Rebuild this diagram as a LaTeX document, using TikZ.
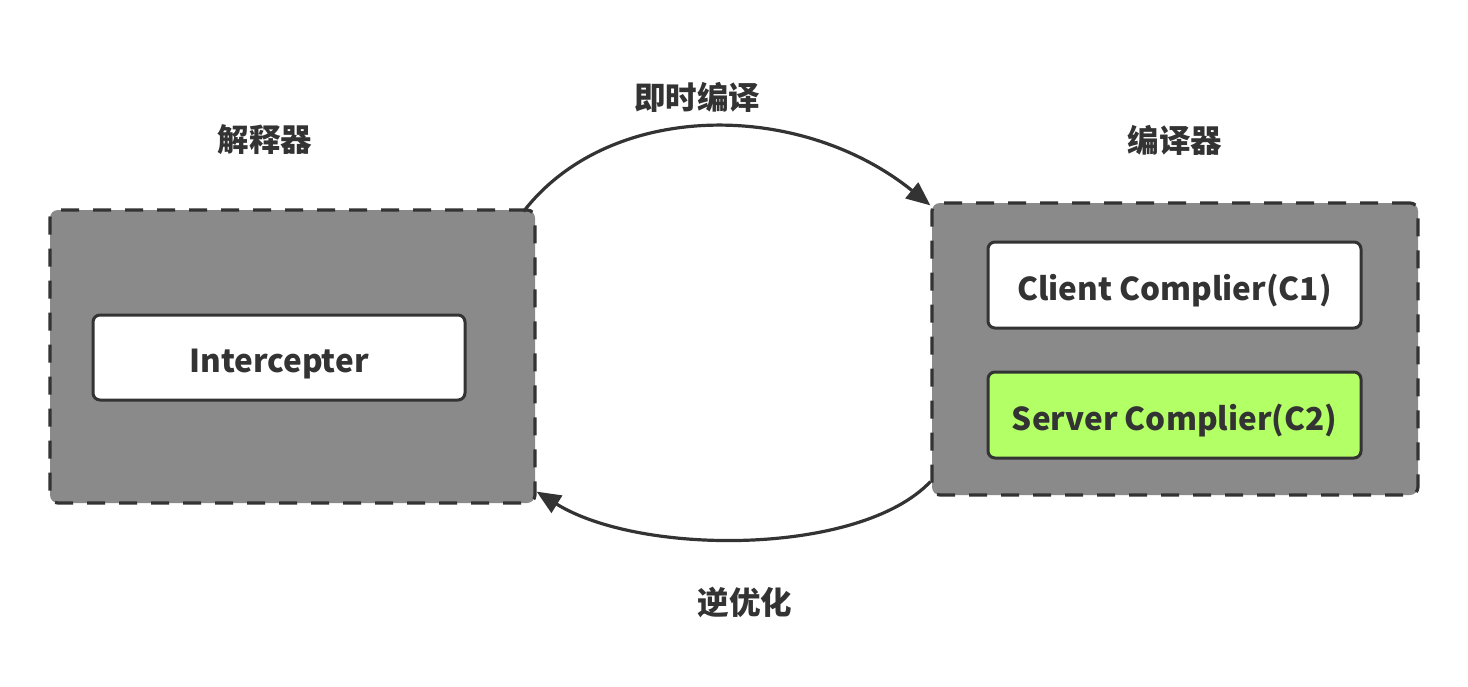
\documentclass[tikz,border=0pt]{standalone}
\usepackage{fontspec}
\setmainfont{Noto Sans CJK SC}
\usepackage{xcolor}
\definecolor{jvdark}{RGB}{51,51,51}
\definecolor{jvgrey}{RGB}{138,138,138}
\definecolor{jvgreen}{RGB}{179,255,102}
\usetikzlibrary{arrows.meta}
\tikzset{
  area/.style={draw=jvdark, fill=jvgrey, line width=3.2pt, dash pattern=on 18pt off 14pt, rounded corners=8pt},
  comp/.style={draw=jvdark, fill=white, line width=3pt, rounded corners=7pt, font=\fontsize{31.5}{36}\selectfont\bfseries, text=jvdark, text height=30pt, text depth=0pt},
  title/.style={font=\fontsize{31.5}{36}\selectfont\bfseries, text=jvdark},
  arr/.style={draw=jvdark, line width=3.2pt, -{Triangle[length=24pt,width=20pt]}}
}

\begin{document}
\begin{tikzpicture}[x=1pt, y=-1pt]
  \useasboundingbox (0,0) rectangle (1468,686);
  % the two areas
  \node[area, minimum width=485pt, minimum height=293pt] (interp) at (292.5,356.5) {};
  \node[area, minimum width=486pt, minimum height=292pt] (compiler) at (1175,349) {};
  \node[comp, minimum width=372pt, minimum height=85pt] (icpt) at (279,357.5) {Intercepter};
  \node[comp, minimum width=373pt, minimum height=86pt] (c1) at (1174.5,285) {Client Complier(C1)};
  \node[comp, fill=jvgreen, minimum width=373pt, minimum height=86pt] (c2) at (1174.5,415) {Server Complier(C2)};
  % titles
  \node[title] (tinterp) at (265,140) {解释器};
  \node[title] (tcompiler) at (1175,140) {编译器};
  \node[title] (tjit) at (697,97) {即时编译};
  \node[title] (tdeopt) at (745,602) {逆优化};
  % arcs
  \draw[arr] ([xshift=-13pt,yshift=-3pt]interp.north east) .. controls (610,100) and (800,100) .. ([yshift=-4pt]compiler.north west);
  \draw[arr] ([yshift=15pt]compiler.south west) .. controls (860,556) and (640,556) .. ([yshift=13pt]interp.south east);
\end{tikzpicture}
\end{document}
